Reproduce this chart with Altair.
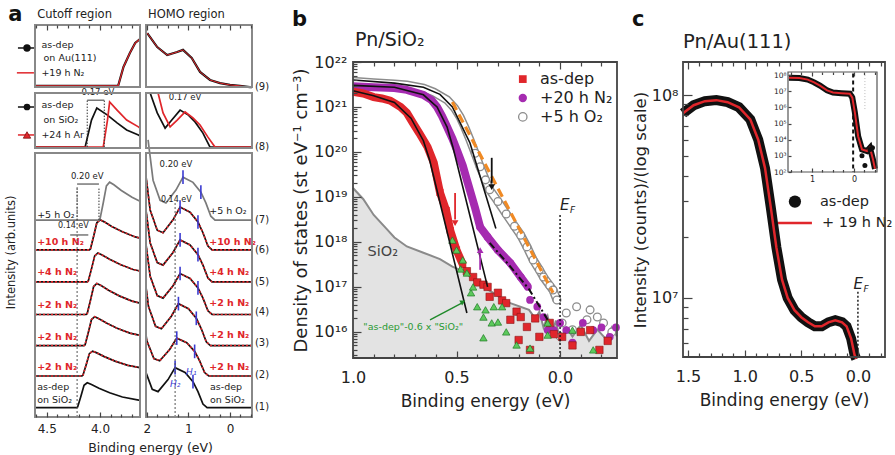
import altair as alt
import pandas as pd

FONT = "DejaVu Sans"
RED = "#e0262b"
PURPLE = "#a52bb0"
GREEN = "#35a83c"
ORANGE = "#f08a24"
BLUE = "#3b3bd1"
DARK = "#222222"

# ======================= DATA =======================
# ---- panel a: stacked spectra (arbitrary units), binding energy in eV ----
CURVE_BASE = [0.30, 1.32, 2.30, 3.30, 4.35, 5.38, 6.34]
CUT_ONSET = [4.21, 4.16, 4.14, 4.12, 4.11, 4.09, 4.00]
CUT_AMP = [0.80, 0.80, 0.93, 1.00, 0.93, 0.97, 1.22]
CUT_SHAPE_DE = [0.01, 0.0, -0.03, -0.06, -0.09, -0.13, -0.20, -0.30, -0.42, -0.60]
CUT_SHAPE_V = [0.0, 0.03, 0.45, 0.90, 1.00, 0.93, 0.78, 0.60, 0.43, 0.28]

HOMO_PEAK = [1.32, 1.28, 1.24, 1.20, 1.20, 1.20, 1.13]
HOMO_AMP = [1.29, 1.22, 1.35, 1.32, 1.35, 1.38, 1.38]
HOMO_SHAPE_DE = [0.84, 0.72, 0.55, 0.41, 0.17, 0.0, -0.24, -0.43, -0.55, -0.67, -0.77]
HOMO_SHAPE_V = [1.87, 0.93, 0.46, 0.40, 0.70, 1.00, 0.88, 0.65, 0.40, 0.09, 0.0]

CUT_LABELS = ["as-dep", "+2 h N₂", "+2 h N₂", "+2 h N₂", "+4 h N₂", "+10 h N₂", "+5 h O₂"]
CUT_LABEL_Y = [0.97, 1.61, 2.58, 3.61, 4.67, 5.63, 6.50]
HOMO_LABEL_Y = [0.97, 1.61, 2.64, 3.67, 4.67, 5.63, 6.63]
NUM_LABELS = ["(1)", "(2)", "(3)", "(4)", "(5)", "(6)", "(7)", "(8)", "(9)"]
NUM_LABEL_Y = [0.32, 1.35, 2.38, 3.38, 4.35, 5.38, 6.34, 8.69, 10.62]

BOX9_CUT_BE = [4.61, 3.83, 3.78, 3.72, 3.67, 3.625]
BOX9_CUT_Y = [10.66, 10.66, 11.27, 11.72, 12.04, 12.17]
BOX9_HOMO_BE = [1.99, 1.75, 1.51, 1.27, 1.13, 0.92, 0.72, 0.48, 0.24, 0.0, -0.24, -0.48, -0.53]
BOX9_HOMO_Y = [12.36, 11.91, 11.65, 11.75, 11.82, 11.56, 11.11, 10.85, 10.75, 10.69, 10.66, 10.62, 10.62]

BOX8_CUT_BLACK_BE = [4.61, 4.14, 4.08, 4.03, 3.93, 3.84, 3.75, 3.64, 3.625]
BOX8_CUT_BLACK_Y = [8.69, 8.69, 9.56, 9.95, 9.72, 9.47, 9.24, 9.08, 9.05]
BOX8_CUT_RED_BE = [4.61, 3.97, 3.93, 3.91, 3.84, 3.75, 3.64, 3.625]
BOX8_CUT_RED_Y = [8.69, 8.69, 9.56, 10.14, 9.88, 9.56, 9.34, 9.30]
BOX8_HOMO_BLACK_BE = [1.92, 1.75, 1.56, 1.40, 1.20, 1.00, 0.84, 0.65, 0.48, -0.53]
BOX8_HOMO_BLACK_Y = [10.43, 9.79, 9.30, 9.56, 9.88, 9.72, 9.50, 9.14, 8.69, 8.69]
BOX8_HOMO_RED_BE = [1.73, 1.61, 1.44, 1.27, 1.08, 0.89, 0.72, 0.53, 0.36, -0.53]
BOX8_HOMO_RED_Y = [10.43, 9.79, 9.34, 9.56, 9.82, 9.63, 9.40, 9.01, 8.69, 8.69]

# ---- panel b: density of states, log10 values ----
B_RED_BE = [1.0, 0.95, 0.90, 0.86, 0.82, 0.77, 0.74, 0.71, 0.68, 0.64, 0.61, 0.58, 0.55, 0.53, 0.50, 0.47]
B_RED_LOG = [21.34, 21.30, 21.22, 21.19, 21.14, 21.00, 20.87, 20.64, 20.42, 20.11, 19.76, 19.10, 18.70, 18.25, 17.82, 17.50]
B_RED_TAIL_BE = [0.45, 0.42, 0.40, 0.37, 0.35, 0.34, 0.30, 0.28, 0.26, 0.24, 0.21, 0.19, 0.20, 0.16, 0.145,
                 0.12, 0.10, 0.05, 0.03, -0.01, -0.06, -0.10, -0.145, -0.19, -0.23]
B_RED_TAIL_LOG = [17.35, 17.22, 17.10, 17.05, 17.00, 16.78, 16.87, 16.70, 16.64, 16.27, 16.45, 16.33, 15.82, 16.11,
                  15.60, 16.30, 15.89, 16.20, 15.95, 15.89, 15.70, 16.00, 16.04, 15.60, 15.80]
B_RED_FIT_BE = [1.0, 0.90, 0.80, 0.72, 0.66, 0.63, 0.45]
B_RED_FIT_LOG = [21.36, 21.25, 21.10, 20.75, 20.25, 19.82, 16.42]

B_PUR_BE = [1.0, 0.90, 0.80, 0.74, 0.66, 0.62, 0.594, 0.57, 0.546, 0.52, 0.498, 0.47, 0.45, 0.41, 0.386,
            0.35, 0.30, 0.24, 0.19, 0.155]
B_PUR_LOG = [21.46, 21.44, 21.42, 21.38, 21.27, 21.15, 21.00, 20.80, 20.56, 20.30, 20.04, 19.70, 19.38, 18.75,
             18.33, 18.11, 17.82, 17.53, 17.22, 17.00]
B_PUR_TAIL_BE = [0.145, 0.11, 0.08, 0.06, 0.03, 0.0, -0.03, -0.06, -0.11, -0.16, -0.20, -0.24, -0.27]
B_PUR_TAIL_LOG = [16.71, 16.56, 16.33, 16.04, 16.04, 16.20, 16.04, 15.76, 16.20, 16.04, 16.10, 15.89, 16.10]
B_PUR_FIT_BE = [1.0, 0.80, 0.66, 0.594, 0.546, 0.517, 0.35]
B_PUR_FIT_LOG = [21.48, 21.44, 21.27, 21.00, 20.56, 20.10, 17.00]
B_DASHDOT_BE = [0.34, 0.24, 0.15, 0.06]
B_DASHDOT_LOG = [17.98, 17.45, 16.95, 16.27]

B_OX_BE = [1.0, 0.90, 0.80, 0.74, 0.66, 0.61, 0.546, 0.51, 0.483, 0.46, 0.435, 0.41, 0.386, 0.36, 0.34,
           0.30, 0.26, 0.22, 0.19, 0.16, 0.13, 0.10, 0.08, 0.05, 0.034, 0.015]
B_OX_LOG = [21.57, 21.54, 21.51, 21.49, 21.42, 21.33, 21.16, 20.98, 20.78, 20.55, 20.27, 19.97, 19.67, 19.38,
            19.16, 18.90, 18.62, 18.35, 18.15, 17.89, 17.60, 17.38, 17.22, 17.03, 16.93, 16.71]
B_OX_TAIL_BE = [0.0, -0.01, -0.03, -0.06, -0.08, -0.13, -0.145, -0.18, -0.21, -0.25]
B_OX_TAIL_LOG = [15.90, 16.20, 16.42, 16.05, 16.56, 16.27, 16.49, 16.33, 16.20, 16.00]
B_OX_FIT_BE = [1.0, 0.80, 0.66, 0.58, 0.52, 0.435, 0.31]
B_OX_FIT_LOG = [21.60, 21.53, 21.44, 21.28, 21.00, 20.20, 18.30]

B_ORANGE_BE = [0.52, 0.034]
B_ORANGE_LOG = [21.11, 16.87]

B_GREEN_BE = [0.52, 0.50, 0.48, 0.47, 0.45, 0.43, 0.42, 0.40, 0.37, 0.36, 0.37, 0.33, 0.32, 0.30, 0.28,
              0.26, 0.21, 0.145, 0.06, 0.06, -0.06, -0.16]
B_GREEN_LOG = [18.04, 17.82, 17.40, 17.60, 17.31, 16.87, 17.00, 16.56, 16.33, 16.49, 15.87, 16.20, 16.56,
               16.22, 16.56, 16.00, 15.71, 15.64, 16.20, 15.93, 16.04, 15.60]

B_SIO2_BE = [1.0, 0.95, 0.90, 0.84, 0.80, 0.74, 0.66, 0.58, 0.52, 0.47, 0.42, 0.386, 0.30, 0.24, 0.15, 0.12,
             0.10, 0.08, 0.06, 0.04, 0.02, 0.0, -0.03, -0.06, -0.10, -0.14, -0.18, -0.22, -0.25, -0.275]
B_SIO2_LOG = [19.20, 18.95, 18.60, 18.30, 18.10, 17.90, 17.76, 17.62, 17.45, 17.35, 17.18, 17.05, 16.80, 16.64,
              16.49, 16.30, 16.45, 16.10, 16.35, 15.95, 16.25, 15.80, 16.10, 15.90, 16.15, 15.80, 16.05, 15.85,
              16.10, 15.90]

# ---- panel c: Pn/Au(111), log10 intensity ----
C_BE = [1.544, 1.45, 1.35, 1.25, 1.15, 1.05, 0.95, 0.88, 0.82, 0.77, 0.72, 0.67, 0.62, 0.56, 0.50, 0.44,
        0.38, 0.32, 0.26, 0.20, 0.14, 0.10, 0.06, 0.03, 0.015]
C_LOG = [7.91, 7.95, 7.97, 7.975, 7.965, 7.94, 7.88, 7.78, 7.64, 7.45, 7.25, 7.09, 7.00, 6.94, 6.905, 6.88,
         6.86, 6.86, 6.88, 6.89, 6.88, 6.86, 6.80, 6.72, 6.70]
I_BE = [1.55, 1.30, 1.10, 0.95, 0.81, 0.64, 0.50, 0.30, 0.10, 0.04, -0.02, -0.10, -0.19, -0.31, -0.38, -0.45, -0.50]
I_LOG = [7.83, 7.82, 7.72, 7.55, 7.35, 7.05, 6.92, 6.88, 6.85, 6.60, 5.70, 4.20, 3.40, 3.30, 3.50, 2.80, 2.20]
I_DOT_BE = [-0.19, -0.26, -0.38, -0.44]
I_DOT_LOG = [3.0, 2.4, 3.4, 3.5]

# ======================= HELPERS =======================
LAYERS = []


def lin(domain, rng):
    return alt.Scale(type="linear", domain=domain, range=rng, nice=False, zero=False)


def logs(domain, rng):
    return alt.Scale(type="log", domain=domain, range=rng, nice=False)


def xy(xs, ys):
    return {"x": alt.X("x:Q", scale=xs, axis=None), "y": alt.Y("y:Q", scale=ys, axis=None)}


def line(xv, yv, xs, ys, **mk):
    df = pd.DataFrame({"x": list(xv), "y": list(yv), "i": list(range(len(xv)))})
    LAYERS.append(alt.Chart(df).mark_line(**mk).encode(order=alt.Order("i:Q"), **xy(xs, ys)))


def points(xv, yv, xs, ys, **mk):
    df = pd.DataFrame({"x": list(xv), "y": list(yv)})
    LAYERS.append(alt.Chart(df).mark_point(**mk).encode(**xy(xs, ys)))


def text(x, y, t, xs, ys, **mk):
    df = pd.DataFrame({"x": [x], "y": [y], "t": [t]})
    mk.setdefault("font", FONT)
    mk.setdefault("baseline", "middle")
    LAYERS.append(alt.Chart(df).mark_text(**mk).encode(text="t:N", **xy(xs, ys)))


def rule(x, y, x2, y2, xs, ys, **mk):
    df = pd.DataFrame({"x": [x], "y": [y], "x2": [x2], "y2": [y2]})
    LAYERS.append(alt.Chart(df).mark_rule(**mk).encode(x2="x2:Q", y2="y2:Q", **xy(xs, ys)))


def rect(x, x2, y, y2, xs, ys, **mk):
    df = pd.DataFrame({"x": [x], "y": [y], "x2": [x2], "y2": [y2]})
    LAYERS.append(alt.Chart(df).mark_rect(**mk).encode(x2="x2:Q", y2="y2:Q", **xy(xs, ys)))


def area(xv, yv, base, xs, ys, **mk):
    df = pd.DataFrame({"x": list(xv), "y": list(yv), "b": [base] * len(xv)})
    LAYERS.append(alt.Chart(df).mark_area(**mk).encode(y2="b:Q", **xy(xs, ys)))


def axis(ch, scale, orient, offset, values, labels=False, tick=0, **kw):
    props = dict(orient=orient, offset=offset, values=list(values), domain=False, grid=False,
                 labels=labels, ticks=tick > 0, zindex=1, title=None)
    if tick > 0:
        props.update(tickSize=tick, tickWidth=1.2, tickColor="#444")
    else:
        props.update(tickSize=0)
    if labels:
        props.update(labelFont=FONT, labelColor=DARK, labelFlush=False, labelOverlap=False)
    props.update(titleFont=FONT, titleColor=DARK, titleFontWeight="normal")
    props.update(kw)
    df = pd.DataFrame({"v": [values[0]]})
    if ch == "x":
        enc = {"x": alt.X("v:Q", scale=scale, axis=alt.Axis(**props))}
    else:
        enc = {"y": alt.Y("v:Q", scale=scale, axis=alt.Axis(**props))}
    LAYERS.append(alt.Chart(df).mark_point(opacity=0).encode(**enc))


def sup(n):
    return str(n).translate(str.maketrans("0123456789-", "⁰¹²³⁴⁵⁶⁷⁸⁹⁻"))


def decade_expr(exps):
    parts = [f"datum.value < {10 ** (e + 0.5):.4e} ? '10{sup(e)}'" for e in exps]
    return " : ".join(parts) + " : ''"


def clip(xv, yv, lo, hi):
    ox, oy = [], []
    for k in range(len(xv)):
        x, y = xv[k], yv[k]
        if k > 0:
            x0, y0 = xv[k - 1], yv[k - 1]
            for b in (lo, hi):
                if (x0 - b) * (x - b) < 0:
                    t = (b - x0) / (x - x0)
                    ox.append(b)
                    oy.append(y0 + t * (y - y0))
        if lo <= x <= hi:
            ox.append(x)
            oy.append(y)
    return ox, oy


def p10(v):
    return [10 ** a for a in v]


def below(xv, yv, lim):
    pairs = [(x, y) for x, y in zip(xv, yv) if x <= lim]
    return [p[0] for p in pairs], [p[1] for p in pairs]


# ======================= SCALES =======================
AX = lin([4.61, 3.625], [35, 140])      # cutoff
HX = lin([2.02, -0.53], [146, 252])     # HOMO
AY = lin([0, 12.62], [417, 25])
B_YMIN = 10 ** 15.42
BX = lin([1.0, -0.275], [353, 617])
BY = logs([B_YMIN, 1e22], [358, 62])
C_YMIN = 10 ** 6.709
CX = lin([1.544, -0.239], [683, 885])
CY = logs([C_YMIN, 10 ** 8.163], [357, 62])
IX = lin([1.571, -0.548], [788, 877])
IY = logs([1e2, 10 ** 8.19], [172, 72])

# ======================= PANEL a =======================
for k in range(7):
    base = CURVE_BASE[k]
    bx = [4.61] + [CUT_ONSET[k] + d for d in CUT_SHAPE_DE]
    by = [base] + [base + CUT_AMP[k] * v for v in CUT_SHAPE_V]
    bx, by = clip(bx, by, 3.625, 4.61)
    hx = [HOMO_PEAK[k] + d for d in HOMO_SHAPE_DE] + [-0.53]
    hy = [base + HOMO_AMP[k] * v for v in HOMO_SHAPE_V] + [base]
    hx, hy = clip(hx, hy, -0.53, 2.02)
    col = "#7a7a7a" if k == 6 else "#111111"
    line(bx, by, AX, AY, color=col, strokeWidth=1.7)
    line(hx, hy, HX, AY, color=col, strokeWidth=1.7)
    if 0 < k < 6:
        line(bx, by, AX, AY, color=RED, strokeWidth=1.6, strokeDash=[2, 2])
        line(hx, hy, HX, AY, color=RED, strokeWidth=1.6, strokeDash=[2, 2])
    pk = base + HOMO_AMP[k]
    sh = base + HOMO_AMP[k] * 0.65
    rule(HOMO_PEAK[k], pk - 0.22, HOMO_PEAK[k], pk + 0.22, HX, AY, color=BLUE, strokeWidth=1.6)
    rule(HOMO_PEAK[k] - 0.43, sh - 0.22, HOMO_PEAK[k] - 0.43, sh + 0.22, HX, AY, color=BLUE, strokeWidth=1.6)
    lab_col = RED if 0 < k < 6 else DARK
    lab_w = "bold" if 0 < k < 6 else "normal"
    if k == 0:
        text(4.59, 0.97, "as-dep", AX, AY, align="left", fontSize=9.5, color=DARK)
        text(4.59, 0.55, "on SiO₂", AX, AY, align="left", fontSize=9.5, color=DARK)
        text(0.48, 0.97, "as-dep", HX, AY, align="left", fontSize=9.5, color=DARK)
        text(0.48, 0.55, "on SiO₂", HX, AY, align="left", fontSize=9.5, color=DARK)
    else:
        text(4.59, CUT_LABEL_Y[k], CUT_LABELS[k], AX, AY, align="left", fontSize=9.5,
             color=lab_col, fontWeight=lab_w)
        text(0.50, HOMO_LABEL_Y[k], CUT_LABELS[k], HX, AY, align="left", fontSize=9.5,
             color=lab_col, fontWeight=lab_w)

for t, yv in zip(NUM_LABELS, NUM_LABEL_Y):
    text(-0.60, yv, t, HX, AY, align="left", fontSize=10, color=DARK)

# box 9
line(BOX9_CUT_BE, BOX9_CUT_Y, AX, AY, color="#111111", strokeWidth=2.2)
line(BOX9_CUT_BE, BOX9_CUT_Y, AX, AY, color=RED, strokeWidth=1.2)
line(BOX9_HOMO_BE, BOX9_HOMO_Y, HX, AY, color="#111111", strokeWidth=2.2)
line(BOX9_HOMO_BE, BOX9_HOMO_Y, HX, AY, color=RED, strokeWidth=1.0)
# box 8
line(BOX8_CUT_BLACK_BE, BOX8_CUT_BLACK_Y, AX, AY, color="#111111", strokeWidth=1.7)
line(BOX8_CUT_RED_BE, BOX8_CUT_RED_Y, AX, AY, color=RED, strokeWidth=1.7)
line(BOX8_HOMO_BLACK_BE, BOX8_HOMO_BLACK_Y, HX, AY, color="#111111", strokeWidth=1.7)
line(BOX8_HOMO_RED_BE, BOX8_HOMO_RED_Y, HX, AY, color=RED, strokeWidth=1.7)

# legends in boxes 9 and 8
rule(4.77, 11.88, 4.61, 11.88, AX, AY, color="#111111", strokeWidth=1.5)
points([4.685], [11.88], AX, AY, filled=True, color="#111111", size=55, opacity=1)
text(4.55, 11.98, "as-dep", AX, AY, align="left", fontSize=9.5, color=DARK)
text(4.53, 11.56, "on Au(111)", AX, AY, align="left", fontSize=9.5, color=DARK)
rule(4.78, 11.08, 4.62, 11.08, AX, AY, color=RED, strokeWidth=1.5)
text(4.55, 11.08, "+19 h N₂", AX, AY, align="left", fontSize=9.5, color=DARK)
rule(4.77, 9.98, 4.61, 9.98, AX, AY, color="#111111", strokeWidth=1.5)
points([4.685], [9.98], AX, AY, filled=True, color="#111111", size=45, opacity=1)
text(4.55, 10.05, "as-dep", AX, AY, align="left", fontSize=9.5, color=DARK)
text(4.53, 9.56, "on SiO₂", AX, AY, align="left", fontSize=9.5, color=DARK)
rule(4.77, 9.08, 4.61, 9.08, AX, AY, color=RED, strokeWidth=1.5)
points([4.685], [9.08], AX, AY, filled=True, shape="triangle-up", color=RED, stroke="#7a1010",
       strokeWidth=0.8, size=55, opacity=1)
text(4.55, 9.08, "+24 h Ar", AX, AY, align="left", fontSize=9.5, color=DARK)

# energy-shift annotations
for xv in (4.12, 3.96):
    rule(xv, 8.69, xv, 10.2, AX, AY, color="#333", strokeWidth=1, strokeDash=[1.5, 1.5])
rule(4.12, 10.2, 3.96, 10.2, AX, AY, color="#333", strokeWidth=1)
text(4.02, 10.45, "0.17 eV", AX, AY, fontSize=8.5, color=DARK)
for xv in (4.215, 4.01):
    rule(xv, 6.34, xv, 7.4, AX, AY, color="#333", strokeWidth=1, strokeDash=[1.5, 1.5])
rule(4.215, 7.5, 4.01, 7.5, AX, AY, color="#333", strokeWidth=1)
text(4.12, 7.75, "0.20 eV", AX, AY, fontSize=8.5, color=DARK)
text(4.25, 6.15, "0.14 eV", AX, AY, fontSize=8, color=DARK)
rule(4.28, 5.86, 4.11, 5.86, AX, AY, color="#333", strokeWidth=1)
rule(4.215, 0.0, 4.215, 7.4, AX, AY, color="#555", strokeWidth=1, strokeDash=[2, 2])
text(1.30, 8.15, "0.20 eV", HX, AY, fontSize=8.5, color=DARK)
text(1.29, 6.98, "0.14 eV", HX, AY, fontSize=8, color=DARK)
text(1.08, 10.30, "0.17 eV", HX, AY, fontSize=8.5, color=DARK)
rule(1.32, 0.0, 1.32, 6.9, HX, AY, color="#555", strokeWidth=1, strokeDash=[2, 2])
text(1.32, 1.05, "H₂", HX, AY, fontSize=9, fontStyle="italic", color=BLUE)
text(0.93, 1.45, "H₁", HX, AY, fontSize=9, fontStyle="italic", color=BLUE)

# panel a frames
for (y0, y1) in ((10.62, 12.62), (8.66, 10.43), (0.0, 8.5)):
    rect(4.61, 3.625, y0, y1, AX, AY, fillOpacity=0, stroke="#888888", strokeWidth=2)
    rect(2.02, -0.53, y0, y1, HX, AY, fillOpacity=0, stroke="#888888", strokeWidth=2)

# panel a titles
text(4.86, 12.94, "a", AX, AY, align="left", fontSize=21, fontWeight="bold", color="#111")
text(4.59, 12.94, "Cutoff region", AX, AY, align="left", fontSize=11.5, color=DARK)
text(1.97, 12.94, "HOMO region", HX, AY, align="left", fontSize=11.5, color=DARK)
text(4.83, 5.3, "Intensity (arb.units)", AX, AY, angle=270, fontSize=11.5, color=DARK)

# panel a axes
axis("x", AX, "bottom", 417 - 455, [4.5, 4.0], labels=True, format=".1f", labelFontSize=12,
     labelPadding=6, title="Binding energy (eV)", titleX=150, titleFontSize=12.5, titlePadding=7)
axis("x", HX, "bottom", 417 - 455, [2, 1, 0], labels=True, format="d", labelFontSize=12, labelPadding=6)
A_CUT_MIN = [4.6, 4.4, 4.3, 4.2, 4.1, 3.9, 3.8, 3.7]
A_HOMO_MIN = [1.75, 1.5, 1.25, 0.75, 0.5, 0.25, -0.25, -0.5]
for sc, mj, mn in ((AX, [4.5, 4.0], A_CUT_MIN), (HX, [2, 1, 0], A_HOMO_MIN)):
    axis("x", sc, "top", -417, mj, tick=5)
    axis("x", sc, "top", -417, mn, tick=3)
    axis("x", sc, "bottom", 25 - 455, mj, tick=5)
    axis("x", sc, "bottom", 25 - 455, mn, tick=3)

# ======================= PANEL b =======================
area(B_SIO2_BE, p10(B_SIO2_LOG), B_YMIN, BX, BY, color="#e3e3e3", opacity=1)
line(B_SIO2_BE, p10(B_SIO2_LOG), BX, BY, color="#8a8a8a", strokeWidth=2)
# dense data bands
line(B_OX_BE, p10(B_OX_LOG), BX, BY, color="#8c8c8c", strokeWidth=9)
line(B_OX_BE, p10(B_OX_LOG), BX, BY, color="#ffffff", strokeWidth=6)
line(B_PUR_BE, p10(B_PUR_LOG), BX, BY, color=PURPLE, strokeWidth=8)
line(B_RED_BE, p10(B_RED_LOG), BX, BY, color=RED, strokeWidth=8)
# individual markers where they separate
ox_x, ox_y = below(B_OX_BE, B_OX_LOG, 0.42)
points(ox_x, p10(ox_y), BX, BY, shape="circle", filled=True, fill="white", stroke="#8c8c8c",
       strokeWidth=1.3, size=60, opacity=1)
pu_x, pu_y = below(B_PUR_BE, B_PUR_LOG, 0.40)
points(pu_x, p10(pu_y), BX, BY, shape="circle", filled=True, color=PURPLE, size=60, opacity=1)
rd_x, rd_y = below(B_RED_BE, B_RED_LOG, 0.60)
points(rd_x, p10(rd_y), BX, BY, shape="square", filled=True, color=RED, size=50, opacity=1)
# scattered tails
points(B_OX_TAIL_BE, p10(B_OX_TAIL_LOG), BX, BY, shape="circle", filled=True, fill="white",
       stroke="#8c8c8c", strokeWidth=1.3, size=60, opacity=1)
points(B_PUR_TAIL_BE, p10(B_PUR_TAIL_LOG), BX, BY, shape="circle", filled=True, color=PURPLE,
       size=60, opacity=1)
points(B_RED_TAIL_BE, p10(B_RED_TAIL_LOG), BX, BY, shape="square", filled=True, color=RED,
       stroke="#8a1515", strokeWidth=0.6, size=55, opacity=1)
points(B_GREEN_BE, p10(B_GREEN_LOG), BX, BY, shape="triangle-up", filled=True, color="#5cc95c",
       stroke="#1f7a25", strokeWidth=0.7, size=55, opacity=1)
# fit lines
line(B_RED_FIT_BE, p10(B_RED_FIT_LOG), BX, BY, color="#111", strokeWidth=1.6)
line(B_PUR_FIT_BE, p10(B_PUR_FIT_LOG), BX, BY, color="#111", strokeWidth=1.6)
line(B_OX_FIT_BE, p10(B_OX_FIT_LOG), BX, BY, color="#111", strokeWidth=1.6)
line(B_DASHDOT_BE, p10(B_DASHDOT_LOG), BX, BY, color="#111", strokeWidth=2, strokeDash=[7, 3, 2, 3])
line(B_ORANGE_BE, p10(B_ORANGE_LOG), BX, BY, color=ORANGE, strokeWidth=3.2, strokeDash=[9, 5])
# arrows
rule(0.33, 10 ** 19.87, 0.33, 10 ** 19.3, BX, BY, color="#111", strokeWidth=1.8)
points([0.33], [10 ** 19.22], BX, BY, shape="triangle-down", filled=True, color="#111", size=45, opacity=1)
rule(0.507, 10 ** 19.09, 0.507, 10 ** 18.5, BX, BY, color=RED, strokeWidth=1.8)
points([0.507], [10 ** 18.42], BX, BY, shape="triangle-down", filled=True, color=RED, size=45, opacity=1)
rule(0.386, 10 ** 17.38, 0.386, 10 ** 17.75, BX, BY, color=PURPLE, strokeWidth=1.8)
points([0.386], [10 ** 17.82], BX, BY, shape="triangle-up", filled=True, color=PURPLE, size=45, opacity=1)
rule(0.628, 10 ** 16.27, 0.475, 10 ** 16.64, BX, BY, color="#1f8a2a", strokeWidth=1.4)
points([0.469], [10 ** 16.67], BX, BY, shape="triangle-right", angle=331, filled=True, color="#1f8a2a",
       size=35, opacity=1)
# E_F
rule(0.0, 10 ** 18.6, 0.0, B_YMIN, BX, BY, color="#111", strokeWidth=1.4, strokeDash=[2, 2])
text(0.0, 10 ** 18.82, "E", BX, BY, align="left", fontSize=15, fontStyle="italic", color=DARK)
text(0.0, 10 ** 18.82, "F", BX, BY, align="left", fontSize=9, fontStyle="italic", color=DARK, dx=10, dy=5)
# annotations
text(0.93, 10 ** 17.78, "SiO₂", BX, BY, align="left", fontSize=14.5, color="#444")
text(0.95, 10 ** 16.11, "\"as-dep\"-0.6 x \"SiO₂\"", BX, BY, align="left", fontSize=9.5, color="#2a9a33")
text(0.99, 10 ** 22.5, "Pn/SiO₂", BX, BY, align="left", fontSize=19, color=DARK)
text(1.295, 10 ** 22.93, "b", BX, BY, align="left", fontSize=21, fontWeight="bold", color="#111")
# legend
points([0.18], [10 ** 21.62], BX, BY, shape="square", filled=True, color=RED, size=60, opacity=1)
points([0.18], [10 ** 21.20], BX, BY, shape="circle", filled=True, color=PURPLE, size=70, opacity=1)
points([0.18], [10 ** 20.78], BX, BY, shape="circle", filled=True, fill="white", stroke="#8c8c8c",
       strokeWidth=1.3, size=70, opacity=1)
text(0.097, 10 ** 21.62, "as-dep", BX, BY, align="left", fontSize=16, color=DARK)
text(0.097, 10 ** 21.20, "+20 h N₂", BX, BY, align="left", fontSize=16, color=DARK)
text(0.097, 10 ** 20.78, "+5 h O₂", BX, BY, align="left", fontSize=16, color=DARK)
rect(1.0, -0.275, B_YMIN, 1e22, BX, BY, fillOpacity=0, stroke="#444", strokeWidth=1.8)

B_DEC = list(range(16, 23))
B_MINOR = [m * 10 ** e for e in range(15, 22) for m in range(2, 10) if B_YMIN <= m * 10 ** e <= 1e22]
B_XMIN = [0.9, 0.8, 0.7, 0.6, 0.4, 0.3, 0.2, 0.1, -0.1, -0.2]
axis("x", BX, "bottom", 358 - 455, [1.0, 0.5, 0.0], labels=True, format=".1f", labelFontSize=16,
     labelPadding=11, title="Binding energy (eV)", titleFontSize=17, titlePadding=8)
axis("x", BX, "top", -358, [1.0, 0.5, 0.0], tick=7)
axis("x", BX, "top", -358, B_XMIN, tick=4)
axis("x", BX, "bottom", 62 - 455, [1.0, 0.5, 0.0], tick=7)
axis("x", BX, "bottom", 62 - 455, B_XMIN, tick=4)
axis("y", BY, "left", -353, [10.0 ** e for e in B_DEC], labels=True, labelExpr=decade_expr(B_DEC),
     labelFontSize=16, labelPadding=6, title="Density of states (st eV⁻¹ cm⁻³)", titleFontSize=18,
     titlePadding=3)
axis("y", BY, "right", 353 - 895, [10.0 ** e for e in B_DEC], tick=8)
axis("y", BY, "right", 353 - 895, B_MINOR, tick=4)

# ======================= PANEL c =======================
line(C_BE, p10(C_LOG), CX, CY, color="#111", strokeWidth=10)
line(C_BE, p10(C_LOG), CX, CY, color=RED, strokeWidth=2.5)
rule(0.0, 10 ** 7.03, 0.0, C_YMIN, CX, CY, color="#111", strokeWidth=1.4, strokeDash=[2, 2])
text(0.04, 10 ** 7.07, "E", CX, CY, align="left", fontSize=15, fontStyle="italic", color=DARK)
text(0.04, 10 ** 7.07, "F", CX, CY, align="left", fontSize=9, fontStyle="italic", color=DARK, dx=10, dy=5)
points([0.556], [10 ** 7.475], CX, CY, shape="circle", filled=True, color="#111", size=150, opacity=1)
text(0.335, 10 ** 7.475, "as-dep", CX, CY, align="left", fontSize=14.5, color=DARK)
rule(0.706, 10 ** 7.37, 0.406, 10 ** 7.37, CX, CY, color=RED, strokeWidth=2.5)
text(0.317, 10 ** 7.37, "+ 19 h N₂", CX, CY, align="left", fontSize=14.5, color=DARK)
text(1.544, 10 ** 8.262, "Pn/Au(111)", CX, CY, align="left", fontSize=19.5, color=DARK)
text(1.994, 10 ** 8.369, "c", CX, CY, align="left", fontSize=21, fontWeight="bold", color="#111")
rect(1.544, -0.239, C_YMIN, 10 ** 8.163, CX, CY, fillOpacity=0, stroke="#444", strokeWidth=1.8)

C_XMIN = [1.4, 1.3, 1.2, 1.1, 0.9, 0.8, 0.7, 0.6, 0.4, 0.3, 0.2, 0.1, -0.1, -0.2]
C_MINOR = [6e6, 7e6, 8e6, 9e6, 2e7, 3e7, 4e7, 5e7, 6e7, 7e7, 8e7, 9e7]
axis("x", CX, "bottom", 357 - 455, [1.5, 1.0, 0.5, 0.0], labels=True, format=".1f", labelFontSize=16,
     labelPadding=11, title="Binding energy (eV)", titleFontSize=17, titlePadding=8)
axis("x", CX, "top", -357, [1.5, 1.0, 0.5, 0.0], tick=7)
axis("x", CX, "top", -357, C_XMIN, tick=4)
axis("x", CX, "bottom", 62 - 455, [1.5, 1.0, 0.5, 0.0], tick=7)
axis("x", CX, "bottom", 62 - 455, C_XMIN, tick=4)
axis("y", CY, "left", -683, [1e7, 1e8], labels=True, labelExpr=decade_expr([7, 8]), labelFontSize=16,
     labelPadding=5, title="Intensity (counts)/(log scale)", titleFontSize=16.5, titlePadding=3)
axis("y", CY, "right", 683 - 895, [1e7, 1e8], tick=9)
axis("y", CY, "right", 683 - 895, C_MINOR, tick=5)

# inset
rect(1.571, -0.548, 1e2, 10 ** 8.19, IX, IY, color="white", opacity=1)
rule(0.02, 10 ** 8.1, 0.02, 1e2, IX, IY, color="#111", strokeWidth=2, strokeDash=[4, 3])
rule(-0.26, 10 ** 8.0, -0.26, 10 ** 5.8, IX, IY, color="#aaa", strokeWidth=0.8, strokeDash=[1, 2])
line(I_BE, p10(I_LOG), IX, IY, color="#111", strokeWidth=6)
line(I_BE, p10(I_LOG), IX, IY, color=RED, strokeWidth=2)
points(I_DOT_BE, p10(I_DOT_LOG), IX, IY, shape="circle", filled=True, color="#111", size=25, opacity=1)
rect(1.571, -0.548, 1e2, 10 ** 8.19, IX, IY, fillOpacity=0, stroke="#555", strokeWidth=1.2)
I_DEC = list(range(2, 9))
I_XMIN = [1.5, 1.25, 0.75, 0.5, 0.25, -0.25, -0.5]
axis("x", IX, "bottom", 172 - 455, [1, 0], labels=True, format="d", labelFontSize=8, labelPadding=3)
axis("x", IX, "top", -172, [1, 0], tick=4)
axis("x", IX, "top", -172, I_XMIN, tick=2.5)
axis("x", IX, "bottom", 72 - 455, [1, 0], tick=4)
axis("x", IX, "bottom", 72 - 455, I_XMIN, tick=2.5)
axis("y", IY, "left", -788, [10.0 ** e for e in I_DEC], labels=True, labelExpr=decade_expr(I_DEC),
     labelFontSize=7.5, labelPadding=2)
axis("y", IY, "right", 788 - 895, [10.0 ** e for e in I_DEC], tick=3)

# ======================= CHART =======================
chart = (
    alt.layer(*LAYERS)
    .resolve_scale(x="independent", y="independent")
    .properties(width=895, height=455, padding=0, autosize=alt.AutoSizeParams(type="none"),
                background="white")
    .configure_view(strokeWidth=0)
)
chart.save("out.html", embed_options={"renderer": "svg", "actions": False})
